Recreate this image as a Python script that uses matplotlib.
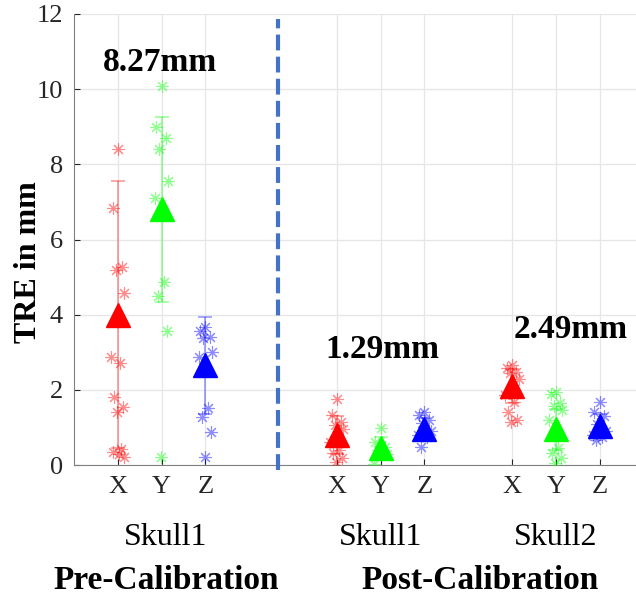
import numpy as np
import matplotlib.pyplot as plt

# group positions on the x axis and their labels
positions = [1, 2, 3, 6, 7, 8, 10, 11, 12]
tick_labels = ["X", "Y", "Z"] * 3
colors = ["#FF0000", "#00FF00", "#0000FF"] * 3

# individual TRE values per group
pre_x = [8.42, 6.85, 5.27, 5.19, 4.58, 2.87, 2.71, 1.82, 1.54, 1.41, 0.42, 0.35, 0.30, 0.22]
pre_y = [10.08, 9.0, 8.69, 8.40, 7.55, 7.11, 4.88, 4.50, 3.56, 0.20]
pre_z = [3.66, 3.56, 3.41, 3.37, 3.01, 2.88, 1.51, 1.28, 0.87, 0.20]
post1_x = [1.75, 1.33, 1.15, 1.06, 0.95, 0.60, 0.40, 0.32, 0.18, 0.09]
post1_y = [0.98, 0.62, 0.49, 0.40, 0.30, 0.02]
post1_z = [1.42, 1.33, 1.20, 1.11, 0.90, 0.80, 0.74, 0.49]
post2_x = [2.66, 2.57, 2.48, 2.45, 2.30, 1.86, 1.68, 1.42, 1.20, 1.15]
post2_y = [1.95, 1.90, 1.64, 1.58, 1.46, 1.20, 0.44, 0.31, 0.18, 0.05]
post2_z = [1.68, 1.42, 1.30, 1.10, 0.90, 0.80, 0.75, 0.66]
groups = [pre_x, pre_y, pre_z, post1_x, post1_y, post1_z, post2_x, post2_y, post2_z]

means = [4.0, 6.8, 2.65, 0.8, 0.45, 0.95, 2.1, 0.95, 1.05]
stds = [3.55, 2.45, 1.29, 0.5, 0.3, 0.3, 0.45, 0.55, 0.3]

totals = ["8.27mm", "1.29mm", "2.49mm"]
total_pos = [(1.96, 10.72), (7.05, 3.08), (11.35, 3.6)]
skull_labels = ["Skull1", "Skull1", "Skull2"]
phase_labels = ["Pre-Calibration", "Post-Calibration"]

# fixed horizontal spread pattern for the stars
spread = [0.0, -0.12, 0.1, -0.05, 0.15, -0.15, 0.05, -0.08, 0.12, -0.02, 0.08, -0.1, 0.03, 0.14]

plt.rcParams['font.family'] = ['Liberation Serif', 'DejaVu Serif']

fig = plt.figure(figsize=(6.36, 5.95), dpi=100)
ax = fig.add_axes([74 / 636, 130 / 595, 13 * 43.8 / 636, 451 / 595])

for pos, vals, m, s, c in zip(positions, groups, means, stds, colors):
    xs = [pos + spread[i % len(spread)] for i in range(len(vals))]
    ax.plot(xs, vals, linestyle='none', marker=(8, 2, 0), markersize=9,
            markeredgewidth=0.8, color=c, alpha=0.45, zorder=3)
    ax.errorbar(pos, m, yerr=s, color=c, alpha=0.4, elinewidth=1.2,
                capsize=5, capthick=1.2, zorder=2)
    ax.plot(pos, m, marker='^', markersize=17, color=c, linestyle='none', zorder=4)

ax.axvline(4.65, color='#4472C4', linewidth=3, linestyle=(0, (3.8, 1.5)), ymin=-0.01, ymax=0.99,
           clip_on=False, zorder=5)

for t, (tx, ty) in zip(totals, total_pos):
    ax.text(tx, ty, t, ha='center', va='center', fontsize=24, fontweight='bold')

ax.set_xlim(0, 13)
ax.set_ylim(0, 12)
ax.set_xticks(positions)
ax.set_xticklabels(tick_labels)
ax.set_yticks(range(0, 13, 2))
ax.tick_params(direction='in', labelsize=19, colors='#262626', length=4, pad=8)
ax.tick_params(axis='x', pad=8)
ax.grid(True, color='#e6e6e6', linewidth=0.9)
ax.set_axisbelow(True)
for side in ['top', 'right']:
    ax.spines[side].set_visible(False)
for side in ['left', 'bottom']:
    ax.spines[side].set_color('#808080')
ax.set_ylabel("TRE in mm", fontsize=23, fontweight='bold')
ax.yaxis.set_label_coords(-0.055, 0.45)

for lab, xpos in zip(skull_labels, [2.1, 7, 11]):
    ax.text(xpos, -2.13, lab, ha='center', va='baseline', fontsize=23)
ax.text(2.1, -3.3, phase_labels[0], ha='center', va='baseline', fontsize=24, fontweight='bold')
ax.text(9.27, -3.3, phase_labels[1], ha='center', va='baseline', fontsize=24, fontweight='bold')

fig.savefig("out.png", dpi=100)
